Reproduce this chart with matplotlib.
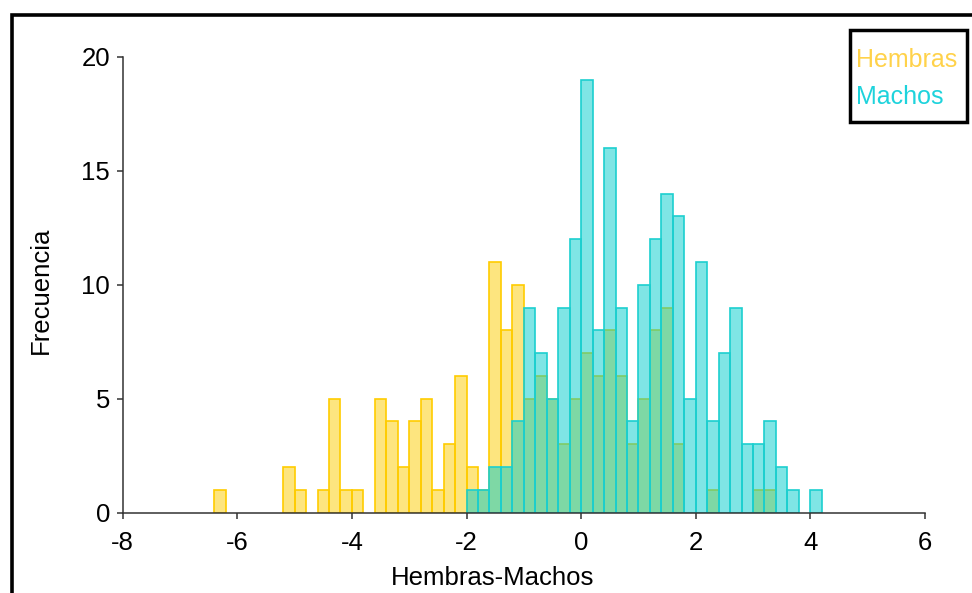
import matplotlib
matplotlib.use("Agg")
import matplotlib.pyplot as plt
import matplotlib.patches as mpatches
import numpy as np

plt.rcParams['font.family'] = ['Liberation Sans', 'DejaVu Sans']
plt.rcParams['axes.unicode_minus'] = False

# bin width 0.2, counts
bin_w = 0.2
hembras_start = -6.4
hembras = [1, 0, 0, 0, 0, 0, 2, 1, 0, 1, 5, 1, 1, 0, 5, 4, 2, 4, 5, 1,
           3, 6, 2, 1, 11, 8, 10, 5, 6, 5, 3, 5, 7, 6, 8, 6, 3, 5, 8, 9,
           3, 0, 0, 1, 0, 0, 0, 1, 1]
machos_start = -2.0
machos = [1, 1, 2, 2, 4, 9, 7, 5, 9, 12, 19, 8, 16, 9, 4, 10, 12, 14, 13, 5,
          11, 4, 7, 9, 3, 3, 4, 2, 1, 0, 1]

x_ticks = [-8, -6, -4, -2, 0, 2, 4, 6]
y_ticks = [0, 5, 10, 15, 20]

fig = plt.figure(figsize=(9.72, 5.93), dpi=100)
ax = fig.add_axes([0.1262, 0.1357, 0.8254, 0.7682])

h_left = np.round(hembras_start + bin_w * np.arange(len(hembras)), 2)
m_left = np.round(machos_start + bin_w * np.arange(len(machos)), 2)
h = np.array(hembras)
m = np.array(machos)

ax.bar(h_left[h > 0], h[h > 0], width=bin_w, align='edge',
       facecolor=(0.99, 0.80, 0.0, 0.5), edgecolor='#FFCC00', linewidth=1.2)
ax.bar(m_left[m > 0], m[m > 0], width=bin_w, align='edge',
       facecolor=(0.0, 0.80, 0.80, 0.5), edgecolor='#1CCFCF', linewidth=1.2)

ax.set_xlim(-8, 6)
ax.set_ylim(0, 20)
ax.set_xticks(x_ticks)
ax.set_yticks(y_ticks)
ax.spines['top'].set_visible(False)
ax.spines['right'].set_visible(False)
ax.spines['left'].set_bounds(0, 20)
ax.spines['bottom'].set_bounds(-8, 6)
for s in ('left', 'bottom'):
    ax.spines[s].set_color('#333333')
    ax.spines[s].set_linewidth(1.1)
ax.tick_params(axis='both', colors='#333333', length=4, width=1.1,
               labelsize=18.5, labelcolor='black')
ax.tick_params(axis='x', pad=9)
ax.tick_params(axis='y', pad=5)
ax.patch.set_alpha(0)

ax.set_xlabel('Hembras-Machos', fontsize=18.5)
ax.xaxis.set_label_coords(0.4615, -0.118, transform=ax.transAxes)
ax.set_ylabel('Frecuencia', fontsize=18.5)
ax.yaxis.set_label_coords(-0.087, 0.488, transform=ax.transAxes)

# legend: coloured text only, inside a heavy black box
box = mpatches.Rectangle((850 / 972, 1 - 121.7 / 593), (967.3 - 850) / 972,
                         (121.7 - 29.7) / 593, transform=fig.transFigure,
                         fill=False, edgecolor='black', linewidth=2.5)
fig.patches.append(box)
fig.text(856 / 972, 1 - 66.7 / 593, 'Hembras', color='#FFD24A',
         fontsize=18, va='baseline', ha='left')
fig.text(856 / 972, 1 - 104 / 593, 'Machos', color='#1ED3DC',
         fontsize=18, va='baseline', ha='left')

# outer frame of the original picture (cut at right and bottom)
frame = mpatches.Rectangle((11.7 / 972, -0.2), 1.2, 1.2 - 15 / 593,
                           transform=fig.transFigure, fill=False,
                           edgecolor='black', linewidth=2.6)
fig.patches.append(frame)

fig.savefig('out.png', dpi=100)
